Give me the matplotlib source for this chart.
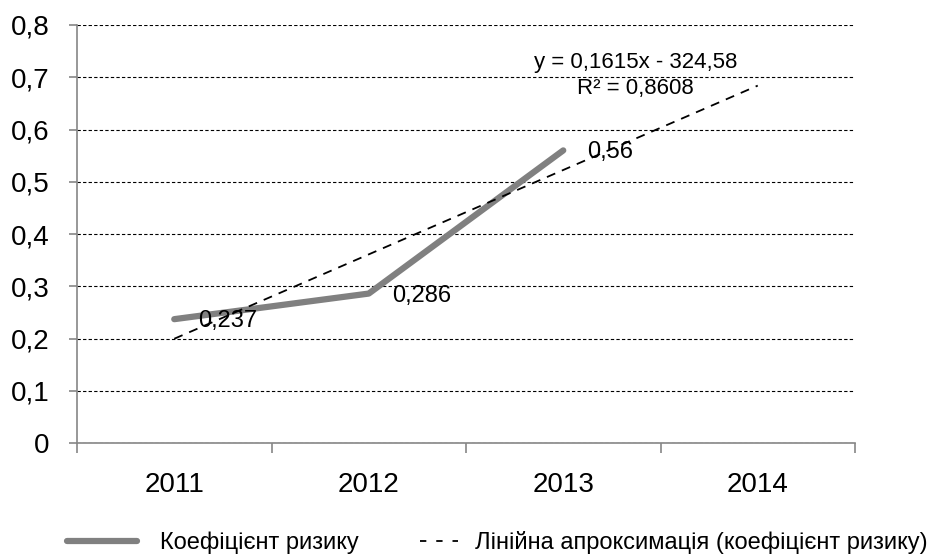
import matplotlib
matplotlib.use("Agg")
import matplotlib.pyplot as plt
from matplotlib.lines import Line2D
import numpy as np

plt.rcParams['font.family'] = ['Liberation Sans', 'DejaVu Sans']

years = [2011, 2012, 2013, 2014]
risk_years = [2011, 2012, 2013]
risk = [0.237, 0.286, 0.56]
risk_labels = ["0,237", "0,286", "0,56"]
yticks = [0, 0.1, 0.2, 0.3, 0.4, 0.5, 0.6, 0.7, 0.8]
ytick_labels = ["0", "0,1", "0,2", "0,3", "0,4", "0,5", "0,6", "0,7", "0,8"]
eq_lines = ["y = 0,1615x - 324,58", "R² = 0,8608"]
legend_labels = ["Коефіцієнт ризику", "Лінійна апроксимація (коефіцієнт ризику)"]

# linear trend over the three known years, extended to 2014
slope, intercept = np.polyfit(risk_years, risk, 1)
trend = [slope * y + intercept for y in years]

fig = plt.figure(figsize=(9.42, 5.6), dpi=100)
ax = fig.add_axes([77/942, 1 - 443/560, (855 - 77)/942, (443 - 25)/560])

xs = np.arange(len(years))
ax.plot(xs[:3], risk, color="#808080", lw=4.5, solid_capstyle="round", zorder=3)
ax.plot(xs, trend, color="black", lw=1.3, ls=(0, (5, 4)), zorder=4)

for x, v, t in zip(xs[:3], risk, risk_labels):
    ax.annotate(t, (x, v), xytext=(17, -1.5), textcoords="offset points",
                va="center", ha="left", fontsize=17, zorder=5)

ax.text(xs[2] + 0.37, 0.7176, eq_lines[0], ha="center", va="baseline", fontsize=16, zorder=5)
ax.text(xs[2] + 0.37, 0.6676, eq_lines[1], ha="center", va="baseline", fontsize=16, zorder=5)

ax.set_xlim(-0.5, 3.5)
ax.set_ylim(0, 0.8)
ax.set_yticks(yticks)
ax.set_yticklabels(ytick_labels, fontsize=20)
ax.set_xticks(xs)
ax.set_xticklabels([str(y) for y in years], fontsize=20)
ax.set_xticks(np.arange(-0.5, 4, 1), minor=True)
ax.tick_params(axis="x", which="major", length=0, pad=21)
ax.tick_params(axis="x", which="minor", length=7, color="#868686", direction="out", width=1.2)
ax.tick_params(axis="y", length=6, color="#868686", direction="out", width=1.2, pad=14)
ax.yaxis.grid(True, color="black", ls=(0, (3, 2)), lw=0.8)
for s in ["top", "right"]:
    ax.spines[s].set_visible(False)
for s in ["left", "bottom"]:
    ax.spines[s].set_color("#868686")
    ax.spines[s].set_linewidth(1.2)

# two legend entries with different handle lengths
h1 = Line2D([], [], color="#808080", lw=4.5, solid_capstyle="round")
h2 = Line2D([], [], color="black", lw=1.3, ls=(0, (3.5, 5.5)))
leg_y = 1 - 543/560
fig.legend([h1], [legend_labels[0]], loc="center left", bbox_to_anchor=(67/942, leg_y),
           frameon=False, fontsize=17, handlelength=2.97, handletextpad=0.97,
           borderpad=0, borderaxespad=0)
fig.legend([h2], [legend_labels[1]], loc="center left", bbox_to_anchor=(420/942, leg_y),
           frameon=False, fontsize=17, handlelength=1.6, handletextpad=0.72,
           borderpad=0, borderaxespad=0)

fig.savefig("out.png", dpi=100)
